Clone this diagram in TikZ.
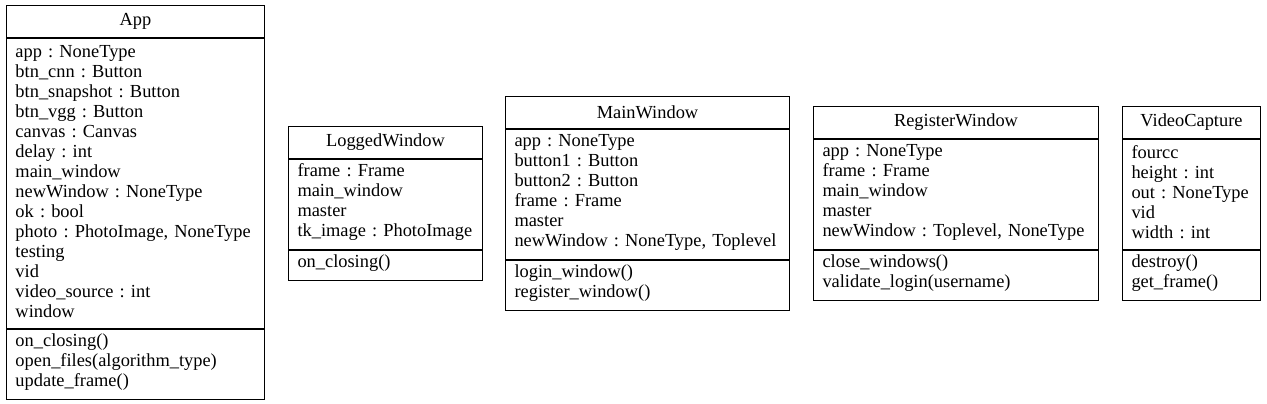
\documentclass[tikz,border=0pt]{standalone}
\usepackage{fontspec}
\setmainfont{Liberation Serif}
\frenchspacing
\tikzset{
	classtitle/.style={draw,line width=1pt,anchor=north west,inner sep=0pt,minimum height=32pt,align=center,font=\fontsize{18.4}{20}\selectfont},
	classpart/.style={draw,line width=1pt,anchor=north west,inner xsep=9pt,inner ysep=0pt,align=left,text height=8.5pt,font=\fontsize{18.4}{20}\selectfont},
}
\begin{document}
\begin{tikzpicture}[x=1pt,y=-1pt]
	\useasboundingbox (0,0) rectangle (1267,404);
	% App
	\node (apptitle) at (6,5) [classtitle,minimum width=258pt]{App};
	\node (appattr) at (apptitle.south west) [classpart,text width=240pt,minimum height=290pt]{app : NoneType\\btn\_cnn : Button\\btn\_snapshot : Button\\btn\_vgg : Button\\canvas : Canvas\\delay : int\\main\_window\\newWindow : NoneType\\ok : bool\\photo : PhotoImage, NoneType\\testing\\vid\\video\_source : int\\window};
	\node (appmeth) at (appattr.south west) [classpart,text width=240pt,minimum height=70pt]{on\_closing()\\open\_files(algorithm\_type)\\update\_frame()};
	% LoggedWindow
	\node (loggedtitle) at (288,126) [classtitle,minimum width=194pt]{LoggedWindow};
	\node (loggedattr) at (loggedtitle.south west) [classpart,text width=176pt,minimum height=90pt]{frame : Frame\\main\_window\\master\\tk\_image : PhotoImage};
	\node (loggedmeth) at (loggedattr.south west) [classpart,text width=176pt,minimum height=30pt]{on\_closing()};
	% MainWindow
	\node (maintitle) at (505,96) [classtitle,minimum width=284pt]{MainWindow};
	\node (mainattr) at (maintitle.south west) [classpart,text width=266pt,minimum height=130pt]{app : NoneType\\button1 : Button\\button2 : Button\\frame : Frame\\master\\newWindow : NoneType, Toplevel};
	\node (mainmeth) at (mainattr.south west) [classpart,text width=266pt,minimum height=50pt]{login\_window()\\register\_window()};
	% RegisterWindow
	\node (registertitle) at (813,106) [classtitle,minimum width=285pt]{RegisterWindow};
	\node (registerattr) at (registertitle.south west) [classpart,text width=267pt,minimum height=110pt]{app : NoneType\\frame : Frame\\main\_window\\master\\newWindow : Toplevel, NoneType};
	\node (registermeth) at (registerattr.south west) [classpart,text width=267pt,minimum height=50pt]{close\_windows()\\validate\_login(username)};
	% VideoCapture
	\node (videotitle) at (1122,106) [classtitle,minimum width=138pt]{VideoCapture};
	\node (videoattr) at (videotitle.south west) [classpart,text width=120pt,minimum height=110pt]{fourcc\\height : int\\out : NoneType\\vid\\width : int};
	\node (videometh) at (videoattr.south west) [classpart,text width=120pt,minimum height=50pt]{destroy()\\get\_frame()};
\end{tikzpicture}
\end{document}
